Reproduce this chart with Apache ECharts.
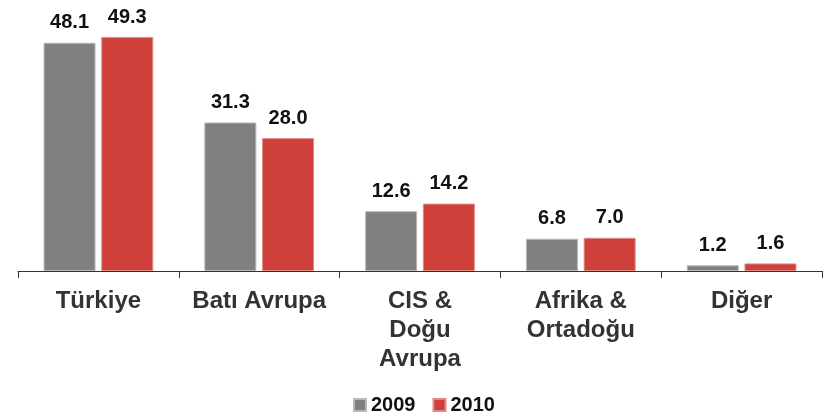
<!DOCTYPE html>
<html>
<head>
<meta charset="utf-8">
<script src="https://cdn.jsdelivr.net/npm/echarts@6/dist/echarts.min.js"></script>
<style>
  html, body { margin: 0; padding: 0; background: #fff; }
  #chart { width: 835px; height: 418px; }
</style>
</head>
<body>
<div id="chart"></div>
<script>
// categories and values
var categories = ["Türkiye", "Batı Avrupa", "CIS &\nDoğu\nAvrupa", "Afrika &\nOrtadoğu", "Diğer"];
var values2009 = [48.1, 31.3, 12.6, 6.8, 1.2];
var values2010 = [49.3, 28.0, 14.2, 7.0, 1.6];

var chart = echarts.init(document.getElementById("chart"));

var labelStyle = {
  show: true,
  position: "top",
  distance: 10,
  color: "#111",
  fontFamily: "Liberation Sans, Arial, sans-serif",
  fontWeight: "bold",
  fontSize: 20,
  formatter: function (p) {
    return p.value.toFixed(1);
  },
};

chart.setOption({
  animation: false,
  grid: {
    left: 18,
    right: 13,
    top: 10,
    bottom: 147,
  },
  legend: {
    bottom: -2,
    left: 348,
    itemWidth: 12,
    itemHeight: 12,
    itemGap: 17,
    icon: "rect",
    textStyle: {
      color: "#111",
      fontFamily: "Liberation Sans, Arial, sans-serif",
      fontWeight: "bold",
      fontSize: 20,
    },
    data: ["2009", "2010"],
  },
  xAxis: {
    type: "category",
    data: categories,
    axisLine: { lineStyle: { color: "#333", width: 1 } },
    axisTick: { show: true, length: 7, lineStyle: { color: "#333" } },
    axisLabel: {
      interval: 0,
      hideOverlap: false,
      margin: 16,
      color: "#333",
      fontFamily: "Liberation Sans, Arial, sans-serif",
      fontWeight: "bold",
      fontSize: 24,
      lineHeight: 29,
    },
  },
  yAxis: {
    type: "value",
    min: 0,
    max: 55,
    show: false,
  },
  series: [
    {
      name: "2009",
      type: "bar",
      data: values2009,
      barWidth: 52,
      barGap: "11%",
      itemStyle: { color: "#808080", borderColor: "#b8b8b8", borderWidth: 1 },
      label: labelStyle,
    },
    {
      name: "2010",
      type: "bar",
      data: values2010,
      barWidth: 52,
      itemStyle: { color: "#d0403a", borderColor: "#e08a85", borderWidth: 1 },
      label: labelStyle,
    },
  ],
});
</script>
</body>
</html>
